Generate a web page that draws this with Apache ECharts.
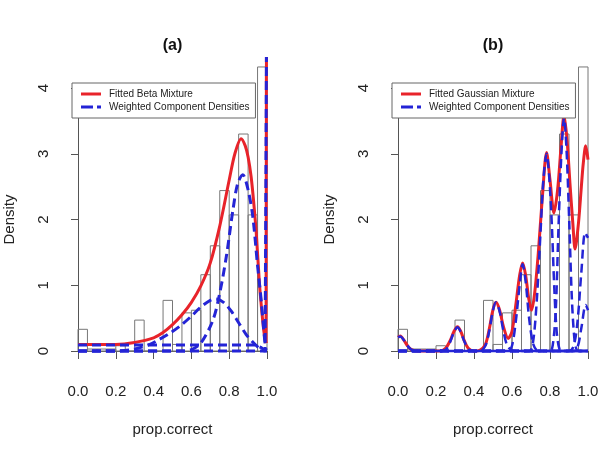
<!DOCTYPE html>
<html>
<head>
<meta charset="utf-8">
<script src="https://cdn.jsdelivr.net/npm/echarts@6/dist/echarts.min.js"></script>
<style>
  html, body { margin: 0; padding: 0; background: #fff; }
  #chart { width: 603px; height: 452px; }
</style>
</head>
<body>
<div id="chart"></div>
<script>
// histogram of prop.correct (same bins in both panels)
var binEdges = [0, 0.05, 0.1, 0.15, 0.2, 0.25, 0.3, 0.35, 0.4, 0.45, 0.5,
                0.55, 0.6, 0.65, 0.7, 0.75, 0.8, 0.85, 0.9, 0.95, 1];
var histDensity = [0.33, 0.03, 0.03, 0.03, 0.08, 0, 0.47, 0, 0, 0.77,
                   0.1, 0.58, 0.62, 1.16, 1.6, 2.44, 2.07, 3.3, 2.07, 4.32];

var xTickLabels = ['0.0', '0.2', '0.4', '0.6', '0.8', '1.0'];
var yTickLabels = ['0', '1', '2', '3', '4'];

// (a) beta mixture
var betaFit = [[0, 0.1], [0.1, 0.1], [0.2, 0.1], [0.3, 0.13], [0.4, 0.2], [0.45, 0.28],
  [0.5, 0.4], [0.55, 0.55], [0.6, 0.74], [0.65, 0.99], [0.7, 1.34], [0.75, 1.9],
  [0.8, 2.6], [0.83, 3.0], [0.863, 3.23], [0.885, 3.12], [0.9, 2.95], [0.916, 2.65],
  [0.93, 2.25], [0.943, 1.8], [0.96, 1.03], [0.977, 0.47], [0.988, 0.2], [0.995, 0.12]];
var betaFitSpike = [[0.995, 0.12], [0.997, 4.47]];
var betaCompFlat = [[0, 0.09], [0.5, 0.09], [0.94, 0.09], [0.97, 0.05], [0.995, 0]];
var betaCompSpike = [[0, 0], [0.99, 0], [0.997, 4.47]];
var betaCompBroad = [[0, 0], [0.2, 0], [0.3, 0.03], [0.38, 0.1], [0.42, 0.16], [0.48, 0.26],
  [0.54, 0.38], [0.6, 0.53], [0.65, 0.67], [0.7, 0.77], [0.73, 0.79], [0.77, 0.74],
  [0.81, 0.61], [0.85, 0.43], [0.89, 0.25], [0.92, 0.15], [0.96, 0.04], [0.99, 0], [1, 0]];
var betaCompNarrow = [[0, 0], [0.55, 0], [0.6, 0.02], [0.65, 0.12], [0.714, 0.47], [0.75, 0.88],
  [0.785, 1.44], [0.82, 2.15], [0.845, 2.55], [0.872, 2.68], [0.9, 2.45], [0.925, 2.04],
  [0.95, 1.3], [0.97, 0.75], [0.986, 0.22], [0.997, 0], [1, 0]];

// (b) gaussian mixture
var gaussFit = [[0, 0.21], [0.012, 0.23], [0.03, 0.17], [0.05, 0.08], [0.07, 0.02], [0.1, 0],
  [0.22, 0], [0.25, 0.04], [0.275, 0.16], [0.295, 0.3], [0.313, 0.37], [0.33, 0.3],
  [0.35, 0.15], [0.37, 0.04], [0.4, 0], [0.43, 0.01], [0.46, 0.1], [0.48, 0.33],
  [0.5, 0.63], [0.516, 0.74], [0.535, 0.62], [0.555, 0.37], [0.58, 0.19], [0.6, 0.3],
  [0.62, 0.7], [0.64, 1.15], [0.656, 1.34], [0.672, 1.15], [0.688, 0.8], [0.703, 0.62],
  [0.72, 0.9], [0.74, 1.55], [0.76, 2.35], [0.782, 3.02], [0.8, 2.6], [0.821, 2.1],
  [0.84, 2.45], [0.858, 3.1], [0.874, 3.59], [0.89, 3.2], [0.905, 2.55], [0.92, 1.95],
  [0.932, 1.55], [0.95, 1.95], [0.965, 2.5], [0.975, 2.85], [0.988, 3.12], [1, 2.91]];
var gaussComp1 = [[0, 0.21], [0.012, 0.22], [0.03, 0.17], [0.05, 0.08], [0.07, 0.02], [0.1, 0], [1, 0]];
var gaussComp2 = [[0, 0], [0.23, 0], [0.255, 0.03], [0.275, 0.14], [0.295, 0.29], [0.313, 0.36],
  [0.33, 0.29], [0.35, 0.14], [0.37, 0.03], [0.4, 0], [1, 0]];
var gaussComp3 = [[0, 0], [0.43, 0], [0.46, 0.08], [0.48, 0.3], [0.5, 0.62], [0.516, 0.74],
  [0.535, 0.6], [0.555, 0.3], [0.575, 0.08], [0.6, 0.01], [0.62, 0], [1, 0]];
var gaussComp4 = [[0, 0], [0.58, 0], [0.6, 0.08], [0.62, 0.45], [0.64, 1.0], [0.656, 1.32],
  [0.672, 1.05], [0.69, 0.5], [0.71, 0.12], [0.73, 0.01], [0.75, 0], [1, 0]];
var gaussComp5 = [[0, 0], [0.69, 0], [0.71, 0.12], [0.73, 0.75], [0.75, 1.8], [0.765, 2.6],
  [0.782, 3.0], [0.797, 2.6], [0.81, 1.9], [0.822, 1.0], [0.835, 0.3], [0.85, 0.03], [0.87, 0], [1, 0]];
var gaussComp6 = [[0, 0], [0.8, 0], [0.815, 0.1], [0.83, 0.6], [0.845, 1.9], [0.86, 3.0],
  [0.874, 3.55], [0.888, 3.0], [0.902, 1.9], [0.915, 0.8], [0.928, 0.2], [0.94, 0.02], [0.955, 0], [1, 0]];
var gaussComp7 = [[0, 0], [0.9, 0], [0.925, 0.08], [0.945, 0.45], [0.965, 1.2], [0.985, 1.8], [1, 1.72]];
var gaussComp8 = [[0, 0], [0.92, 0], [0.945, 0.06], [0.965, 0.35], [0.988, 0.7], [1, 0.62]];

var FONT = '"Liberation Sans", Arial, Helvetica, sans-serif';
var RED = '#e8232a';
var BLUE = '#2424d6';
var AXIS = '#555';
var TXT = '#222';
var COMP = 'Weighted Component Densities';

var chart = echarts.init(document.getElementById('chart'));

function histSeries(idx) {
  var data = [];
  for (var i = 0; i < histDensity.length; i++) {
    data.push([binEdges[i], binEdges[i + 1], histDensity[i]]);
  }
  return {
    type: 'custom', name: 'hist', xAxisIndex: idx, yAxisIndex: idx,
    clip: false, silent: true, z: 1,
    encode: { x: [0, 1], y: 2 },
    data: data,
    renderItem: function (params, api) {
      var p0 = api.coord([api.value(0), api.value(2)]);
      var p1 = api.coord([api.value(1), 0]);
      return {
        type: 'rect',
        shape: { x: p0[0], y: p0[1], width: p1[0] - p0[0], height: p1[1] - p0[1] },
        style: { fill: 'none', stroke: '#777', lineWidth: 1 }
      };
    }
  };
}

function curve(idx, name, pts, color, dashed, smooth, width) {
  return {
    type: 'line', name: name, xAxisIndex: idx, yAxisIndex: idx,
    data: pts, symbol: 'none', clip: false, silent: true,
    smooth: smooth ? 0.3 : false,
    lineStyle: { color: color, width: width || 3, type: dashed ? [9, 5] : 'solid' },
    itemStyle: { color: color },
    z: dashed ? 3 : 2
  };
}

function xAx(idx) {
  return {
    type: 'value', gridIndex: idx, min: 0, max: 1, interval: 0.2, offset: 12,
    axisLine: { show: true, lineStyle: { color: AXIS, width: 1 } },
    axisTick: { show: true, length: 8, lineStyle: { color: AXIS } },
    splitLine: { show: false },
    axisLabel: {
      fontSize: 15, color: TXT, fontFamily: FONT, margin: 21,
      formatter: function (v) { return xTickLabels[Math.round(v * 5)]; }
    },
    name: 'prop.correct', nameLocation: 'middle', nameGap: 59,
    nameTextStyle: { fontSize: 15, color: TXT, fontFamily: FONT }
  };
}

function yAx(idx) {
  return {
    type: 'value', gridIndex: idx, min: 0, max: 4, interval: 1, offset: 7,
    axisLine: { show: true, lineStyle: { color: AXIS, width: 1 } },
    axisTick: { show: true, length: 7, lineStyle: { color: AXIS } },
    splitLine: { show: false },
    axisLabel: {
      fontSize: 15, color: TXT, fontFamily: FONT, margin: 20, rotate: 90,
      formatter: function (v) { return yTickLabels[Math.round(v)]; }
    },
    name: 'Density', nameLocation: 'middle', nameGap: 54, nameRotate: 90,
    nameTextStyle: { fontSize: 15, color: TXT, fontFamily: FONT }
  };
}

// legend keys drawn like R's: solid bar, and dash + dot
var solidKey = 'path://M0,0H20V3H0Z';
var dashKey = 'path://M0,0H12V3H0Z M16,0H20V3H16Z';

function legendAt(left, fitName) {
  return {
    data: [{ name: fitName, icon: solidKey }, { name: COMP, icon: dashKey }],
    orient: 'vertical', left: left, top: 83,
    selectedMode: false, itemWidth: 20, itemHeight: 3, itemGap: 1,
    padding: [5, 6, 5, 9], borderColor: '#666', borderWidth: 1, borderRadius: 0,
    backgroundColor: '#fff',
    itemStyle: { borderWidth: 0 },
    lineStyle: { width: 0 },
    textStyle: { fontSize: 10, lineHeight: 12, color: TXT, fontFamily: FONT, padding: [0, 0, 0, 3] }
  };
}

var option = {
  animation: false,
  backgroundColor: '#fff',
  grid: [
    { left: 78, top: 88, width: 189, height: 263 },
    { left: 398, top: 88, width: 190, height: 263 }
  ],
  xAxis: [xAx(0), xAx(1)],
  yAxis: [yAx(0), yAx(1)],
  legend: [legendAt(72, 'Fitted Beta Mixture'), legendAt(392, 'Fitted Gaussian Mixture')],
  graphic: [
    { type: 'text', x: 172.5, y: 46, style: { text: '(a)', fill: '#111', align: 'center', verticalAlign: 'middle', font: 'bold 16px ' + FONT } },
    { type: 'text', x: 493, y: 46, style: { text: '(b)', fill: '#111', align: 'center', verticalAlign: 'middle', font: 'bold 16px ' + FONT } }
  ],
  series: [
    histSeries(0),
    curve(0, 'Fitted Beta Mixture', betaFit, RED, false, true),
    curve(0, 'Fitted Beta Mixture', betaFitSpike, RED, false, false),
    curve(0, COMP, betaCompFlat, BLUE, true, false),
    curve(0, COMP, betaCompSpike, BLUE, true, false),
    curve(0, COMP, betaCompBroad, BLUE, true, true),
    curve(0, COMP, betaCompNarrow, BLUE, true, true),

    histSeries(1),
    curve(1, 'Fitted Gaussian Mixture', gaussFit, RED, false, true),
    curve(1, COMP, gaussComp1, BLUE, true, true, 2.5),
    curve(1, COMP, gaussComp2, BLUE, true, true, 2.5),
    curve(1, COMP, gaussComp3, BLUE, true, true, 2.5),
    curve(1, COMP, gaussComp4, BLUE, true, true, 2.5),
    curve(1, COMP, gaussComp5, BLUE, true, true, 2.5),
    curve(1, COMP, gaussComp6, BLUE, true, true, 2.5),
    curve(1, COMP, gaussComp7, BLUE, true, true, 2.5),
    curve(1, COMP, gaussComp8, BLUE, true, true, 2.5)
  ]
};

chart.setOption(option);
</script>
</body>
</html>
